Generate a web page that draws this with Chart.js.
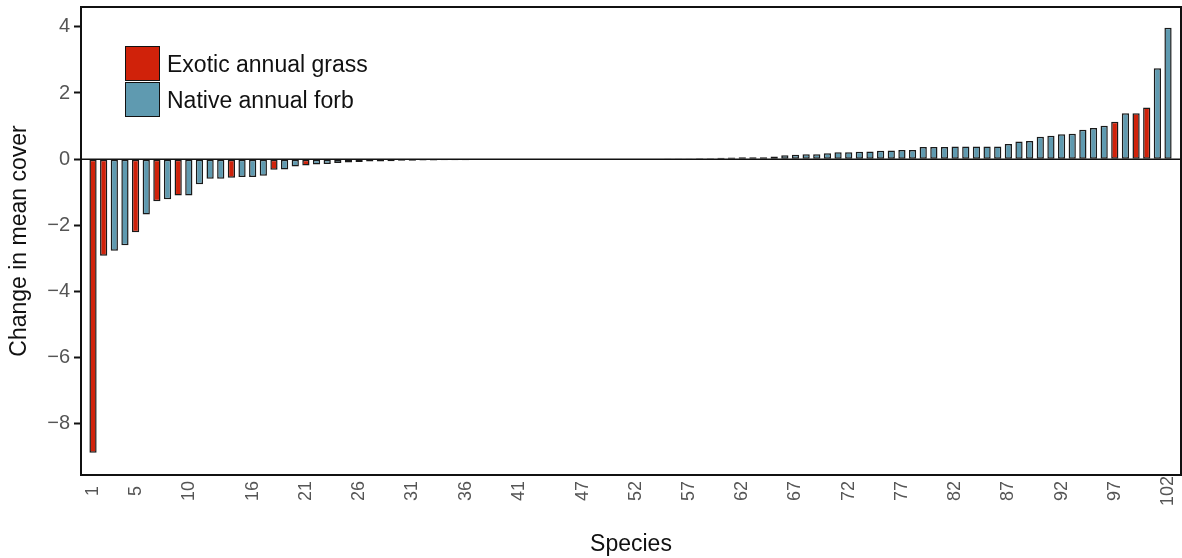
<!DOCTYPE html>
<html>
<head>
<meta charset="utf-8">
<script src="https://cdn.jsdelivr.net/npm/chart.js@4.4.1/dist/chart.umd.min.js"></script>
<style>
  html, body { margin: 0; padding: 0; background: #fff; }
  #wrap { position: relative; width: 1182px; height: 558px; }
  .lg-box { position: absolute; left: 125px; width: 35px; height: 35px; box-sizing: border-box; border: 1.5px solid #111; }
  .lg-text { position: absolute; left: 167px; font: 23px "Liberation Sans", Arial, sans-serif; color: #111; line-height: 28px; }
</style>
</head>
<body>
<div id="wrap">
  <canvas id="chart" width="1182" height="558"></canvas>
  <div class="lg-box" style="top:46px;background:#d0220a"></div>
  <div class="lg-box" style="top:82px;background:#5f9ab0"></div>
  <div class="lg-text" style="top:50px">Exotic annual grass</div>
  <div class="lg-text" style="top:86px">Native annual forb</div>
</div>
<script>
// species ranked by change in mean cover
const species = Array.from({ length: 102 }, (_, i) => i + 1);

const changeValues = [
  -8.88, -2.92, -2.77, -2.60, -2.21, -1.67, -1.27, -1.21, -1.10, -1.10,
  -0.76, -0.59, -0.59, -0.56, -0.54, -0.54, -0.50, -0.32, -0.31, -0.22,
  -0.19, -0.16, -0.15, -0.12, -0.10, -0.09, -0.07, -0.07, -0.06, -0.05,
  -0.05, -0.04, -0.04, -0.03, -0.03, -0.03, -0.02, -0.02, -0.02, -0.02,
  -0.01, -0.01, -0.01, -0.01, -0.01, 0, 0, 0, 0, 0,
  0.01, 0.01, 0.01, 0.01, 0.02, 0.02, 0.02, 0.03, 0.03, 0.04,
  0.05, 0.06, 0.06, 0.06, 0.08, 0.12, 0.13, 0.15, 0.15, 0.18,
  0.21, 0.21, 0.22, 0.23, 0.25, 0.26, 0.28, 0.28, 0.37, 0.37,
  0.37, 0.38, 0.38, 0.38, 0.38, 0.38, 0.46, 0.53, 0.55, 0.68,
  0.71, 0.75, 0.77, 0.89, 0.94, 1.01, 1.13, 1.39, 1.39, 1.56,
  2.75, 3.97
];

// species that are exotic annual grasses, all others are native annual forbs
const exoticSpecies = [1, 2, 5, 7, 9, 14, 18, 21, 30, 97, 99, 100];

const xTickLabels = [1, 5, 10, 16, 21, 26, 31, 36, 41, 47, 52, 57, 62, 67, 72, 77, 82, 87, 92, 97, 102];
const yTickLabels = [-8, -6, -4, -2, 0, 2, 4];

const RED = '#d0220a';
const BLUE = '#5f9ab0';

const points = species.map((s, i) => ({ x: s, y: changeValues[i] }));
const colors = species.map(s => exoticSpecies.includes(s) ? RED : BLUE);

const frame = {
  id: 'frame',
  afterDatasetsDraw(chart) {
    const { ctx, chartArea: a, scales: { y } } = chart;
    const y0 = y.getPixelForValue(0);
    ctx.save();
    ctx.strokeStyle = '#111';
    ctx.lineWidth = 1.5;
    ctx.beginPath();
    ctx.moveTo(a.left, y0);
    ctx.lineTo(a.right, y0);
    ctx.stroke();
    ctx.lineWidth = 2;
    ctx.strokeRect(a.left, a.top, a.right - a.left, a.bottom - a.top);
    ctx.restore();
  }
};

const pad = (v) => {
  const s = String(v);
  return s + ' '.repeat(3 - s.length);
};

const noPad = (scale) => {
  scale.paddingTop = 0;
  scale.paddingBottom = 0;
  scale.paddingLeft = 0;
  scale.paddingRight = 0;
};

new Chart(document.getElementById('chart'), {
  type: 'bar',
  data: {
    datasets: [{
      data: points,
      backgroundColor: colors,
      borderColor: '#1a1a1a',
      borderWidth: 1.5,
      borderSkipped: false,
      barPercentage: 0.68,
      categoryPercentage: 1,
    }],
  },
  plugins: [frame],
  options: {
    responsive: false,
    animation: false,
    devicePixelRatio: 1,
    layout: { padding: { top: 7, right: 1, left: 0, bottom: 0 } },
    plugins: { legend: { display: false }, tooltip: { enabled: false } },
    scales: {
      x: {
        type: 'linear',
        offset: false,
        min: -0.13,
        max: 103.22,
        afterBuildTicks: (scale) => { scale.ticks = xTickLabels.map(v => ({ value: v })); },
        afterFit: (scale) => { scale.height = 83; noPad(scale); },
        grid: { display: false, drawTicks: false },
        border: { display: false },
        ticks: {
          autoSkip: false,
          minRotation: 90,
          maxRotation: 90,
          padding: 1,
          color: '#555',
          font: { family: '"Liberation Sans", Arial, sans-serif', size: 18 },
          callback: (v) => pad(v),
        },
        title: {
          display: true,
          text: 'Species',
          color: '#111',
          padding: { top: 0, bottom: 0 },
          font: { family: '"Liberation Sans", Arial, sans-serif', size: 23 },
        },
      },
      y: {
        min: -9.55,
        max: 4.6,
        afterBuildTicks: (scale) => { scale.ticks = yTickLabels.map(v => ({ value: v })); },
        afterFit: (scale) => { scale.width = 81; noPad(scale); },
        grid: { drawOnChartArea: false, drawTicks: true, tickLength: 7, tickColor: '#111', tickWidth: 2 },
        border: { display: false },
        ticks: {
          padding: 4,
          color: '#555',
          font: { family: '"Liberation Sans", Arial, sans-serif', size: 20 },
          callback: (v) => v < 0 ? '\u2212' + Math.abs(v) : String(v),
        },
        title: {
          display: true,
          text: 'Change in mean cover',
          color: '#111',
          padding: { top: 6, bottom: 0 },
          font: { family: '"Liberation Sans", Arial, sans-serif', size: 23 },
        },
      },
    },
  },
});
</script>
</body>
</html>
